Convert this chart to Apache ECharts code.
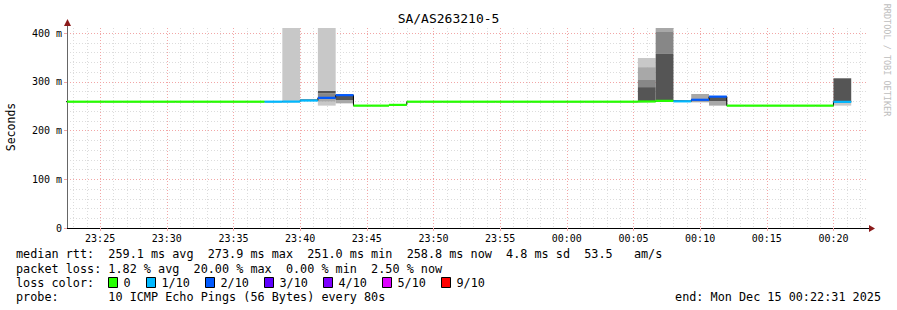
<!DOCTYPE html>
<html><head><meta charset="utf-8">
<script src="https://cdn.jsdelivr.net/npm/echarts@6/dist/echarts.min.js"></script>
<style>html,body{margin:0;padding:0;background:#fff}#c{width:897px;height:310px}</style>
</head><body><div id="c"></div>
<script>
// ---------------- data ----------------
const chartTitle = 'SA/AS263210-5';
const yAxisTitle = 'Seconds';
const watermark = 'RRDTOOL / TOBI OETIKER';
// times are seconds since 23:00:00 (values >= 3600 are past midnight)
const viewStart = 1351;      // 23:22:31
const viewEnd = 4951;        // 00:22:31
const stepSeconds = 80;
const firstStepEnd = 1360;   // 23:22:40
const yMaxMs = 410.26;
// median rtt per 80 s step (ms), 45 steps
const medianMs = [
  259.1,259.1,259.1,259.1,259.1,259.1,259.1,259.1,259.1,259.1,259.1,259.1,
  259.1,259.3,261.5,267.0,272.5,251.0,251.0,252.5,
  259.1,259.1,259.1,259.1,259.1,259.1,259.1,259.1,259.1,259.1,259.1,259.1,259.1,
  259.5,260.8,259.8,263.0,269.5,
  251.0,251.0,251.0,251.0,251.0,251.0,
  258.8
];
// lost pings out of 10 per step
const lossTenths = [
  0,0,0,0,0,0,0,0,0,0,0,0,
  1,1,1,2,2,0,0,0,
  0,0,0,0,0,0,0,0,0,0,0,0,0,
  0,0,1,2,2,
  0,0,0,0,0,0,
  1
];
// smoke bands: [step index, low ms, high ms, shade index]
const smokeBands = [
  [13,259.5,430,0],
  [14,261.0,264.6,2],
  [15,251.0,259.0,0],[15,259.0,264.6,1],[15,264.6,276.3,2],[15,276.3,281.6,3],[15,281.6,430,0],
  [16,255.7,262.6,1],[16,262.6,271.5,3],
  [33,260.0,289.0,3],[33,289.0,303.6,2],[33,303.6,330.0,1],[33,330.0,348.7,0],
  [34,261.0,357.0,3],[34,357.0,402.0,2],[34,402.0,430.0,1],
  [35,259.5,262.0,2],
  [36,257.8,263.0,1],[36,263.0,274.9,1],
  [37,251.0,260.5,1],[37,260.5,268.5,3],
  [44,251.0,257.5,0],[44,258.0,305.6,3],[44,305.6,307.7,2]
];
const smokeShades = ['#c8c8c8','#a8a8a8','#878787','#555555'];
const lossLevels = [0,1,2,3,4,5,9];
const lossLabels = ['0','1/10','2/10','3/10','4/10','5/10','9/10'];
const lossColors = ['#26ff00','#00b8ff','#0059ff','#5e00ff','#7e00ff','#dd00ff','#ff0000'];
const statsLines = [
  'median rtt:  259.1 ms avg  273.9 ms max  251.0 ms min  258.8 ms now  4.8 ms sd  53.5   am/s',
  'packet loss: 1.82 % avg  20.00 % max  0.00 % min  2.50 % now',
  'loss color:',
  'probe:       10 ICMP Echo Pings (56 Bytes) every 80s'
];
const endText = 'end: Mon Dec 15 00:22:31 2025';

// ---------------- build ----------------
const MONO = '"DejaVu Sans Mono", monospace';
const gridL = 67, gridR = 867, gridT = 28, gridB = 228;
const stepEnd = k => firstStepEnd + k * stepSeconds;
const stepStart = k => stepEnd(k) - stepSeconds;

const smokeData = smokeBands.map(b => [stepStart(b[0]), stepEnd(b[0]), b[1], b[2], b[3]]);
const medianData = medianMs.map((m, k) => [stepStart(k), stepEnd(k), m, lossLevels.indexOf(lossTenths[k])]);
const stepLine = [];
medianMs.forEach((m, k) => { stepLine.push([stepStart(k), m]); stepLine.push([stepEnd(k), m]); });

function fmtTime(v) {
  const t = Math.round(23 * 3600 + v);
  const hh = Math.floor(t / 3600) % 24, mm = Math.floor((t % 3600) / 60);
  return String(hh).padStart(2, '0') + ':' + String(mm).padStart(2, '0');
}
function clampRect(params, x1, y1, x2, y2) {
  const cs = params.coordSys;
  const L = Math.max(Math.min(x1, x2), cs.x), R = Math.min(Math.max(x1, x2), cs.x + cs.width);
  const T = Math.max(Math.min(y1, y2), cs.y), B = Math.min(Math.max(y1, y2), cs.y + cs.height);
  return {x: L, y: T, width: Math.max(0, R - L), height: Math.max(0, B - T)};
}

const majorLine = {color: '#f2a6a6', type: [1, 2], width: 1};
const minorLine = {color: '#dcdcdc', type: [1, 2], width: 1};
const FS = '11.8px ';

const graphics = [
  {type: 'text', left: 'center', top: 12, style: {text: chartTitle, font: '13px ' + MONO, fill: '#000'}},
  {type: 'text', x: 11, y: 127, rotation: Math.PI / 2,
   style: {text: yAxisTitle, font: '11.5px ' + MONO, fill: '#000', align: 'center', verticalAlign: 'middle'}},
  {type: 'text', x: 887, y: 60, rotation: -Math.PI / 2,
   style: {text: watermark, font: '8.5px ' + MONO, fill: '#bdbdbd', align: 'center', verticalAlign: 'middle'}},
  // axis extensions + arrows
  {type: 'line', shape: {x1: gridL + 0.5, y1: gridT, x2: gridL + 0.5, y2: 24}, style: {stroke: '#666', lineWidth: 1}},
  {type: 'polygon', shape: {points: [[gridL - 3, 26], [gridL + 4, 26], [gridL + 0.5, 19]]}, style: {fill: '#8b1a1a'}},
  {type: 'line', shape: {x1: gridR, y1: gridB + 0.5, x2: 870, y2: gridB + 0.5}, style: {stroke: '#000', lineWidth: 1}},
  {type: 'polygon', shape: {points: [[869, gridB - 3], [869, gridB + 4], [875, gridB + 0.5]]}, style: {fill: '#8b1a1a'}}
];
const lineY = [254, 268.5, 282.5, 296.5];
statsLines.forEach((s, i) => graphics.push({type: 'text', x: 16, y: lineY[i],
  style: {text: s, font: FS + MONO, fill: '#000', verticalAlign: 'middle'}}));
graphics.push({type: 'text', x: 881, y: lineY[3],
  style: {text: endText, font: FS + MONO, fill: '#000', align: 'right', verticalAlign: 'middle'}});
let bx = 108.5;
lossLabels.forEach((lab, i) => {
  graphics.push({type: 'rect', shape: {x: bx, y: lineY[2] - 5, width: 9, height: 10},
    style: {fill: lossColors[i], stroke: '#000', lineWidth: 1}});
  graphics.push({type: 'text', x: bx + 15, y: lineY[2],
    style: {text: lab, font: FS + MONO, fill: '#000', verticalAlign: 'middle'}});
  bx += 15 + lab.length * 7 + 16;
});

const chart = echarts.init(document.getElementById('c'), null, {renderer: 'svg'});
chart.setOption({
  animation: false,
  backgroundColor: '#ffffff',
  grid: {left: gridL, right: 897 - gridR, top: gridT, bottom: 310 - gridB, containLabel: false},
  xAxis: [
    {type: 'value', min: viewStart, max: viewEnd, splitNumber: 12, minInterval: 300, maxInterval: 300, z: 1,
     axisLine: {show: true, lineStyle: {color: '#000', width: 1}},
     axisTick: {show: true, length: 3, lineStyle: {color: '#f2a6a6'}},
     axisLabel: {formatter: fmtTime, fontFamily: MONO, fontSize: 10, color: '#000', margin: 5,
                 showMinLabel: false, showMaxLabel: false},
     splitLine: {show: true, showMinLine: false, showMaxLine: false, lineStyle: majorLine}},
    {type: 'value', min: viewStart, max: viewEnd, splitNumber: 60, minInterval: 60, maxInterval: 60, z: 0,
     position: 'bottom', axisLine: {show: false}, axisTick: {show: false}, axisLabel: {show: false},
     splitLine: {show: true, showMinLine: false, showMaxLine: false, lineStyle: minorLine}}
  ],
  yAxis: [
    {type: 'value', min: 0, max: yMaxMs, interval: 100, z: 1, position: 'left',
     axisLine: {show: true, lineStyle: {color: '#666', width: 1}},
     axisTick: {show: true, length: 3, lineStyle: {color: '#f2a6a6'}},
     axisLabel: {formatter: v => v === 0 ? '0' : Math.round(v) + ' m', fontFamily: MONO, fontSize: 10,
                 color: '#000', margin: 5, showMaxLabel: false},
     splitLine: {show: true, showMinLine: false, showMaxLine: false, lineStyle: majorLine}},
    {type: 'value', min: 0, max: yMaxMs, interval: 20, z: 0, position: 'left',
     axisLine: {show: false}, axisTick: {show: false}, axisLabel: {show: false},
     splitLine: {show: true, showMinLine: false, showMaxLine: false, lineStyle: minorLine}}
  ],
  series: [
    {type: 'custom', name: 'smoke', xAxisIndex: 0, yAxisIndex: 0, data: smokeData, clip: true, z: 2,
     encode: {x: [0, 1], y: [2, 3]},
     renderItem: (params, api) => {
       const a = api.coord([api.value(0), api.value(3)]);
       const b = api.coord([api.value(1), api.value(2)]);
       return {type: 'rect', shape: clampRect(params, a[0], a[1], b[0], b[1]),
               style: {fill: smokeShades[api.value(4)]}};
     }},
    {type: 'line', name: 'median-step', xAxisIndex: 0, yAxisIndex: 0, data: stepLine, symbol: 'none',
     clip: true, z: 3, lineStyle: {color: '#000', width: 1}},
    {type: 'custom', name: 'median', xAxisIndex: 0, yAxisIndex: 0, data: medianData, clip: true, z: 4,
     encode: {x: [0, 1], y: 2},
     renderItem: (params, api) => {
       const a = api.coord([api.value(0), api.value(2)]);
       const b = api.coord([api.value(1), api.value(2)]);
       const cs = params.coordSys;
       const x1 = Math.max(a[0], cs.x), x2 = Math.min(b[0], cs.x + cs.width);
       return {type: 'line', shape: {x1: x1, y1: a[1], x2: x2, y2: b[1]},
               style: {stroke: lossColors[api.value(3)], lineWidth: 2.2}};
     }}
  ],
  graphic: graphics
});
</script></body></html>
